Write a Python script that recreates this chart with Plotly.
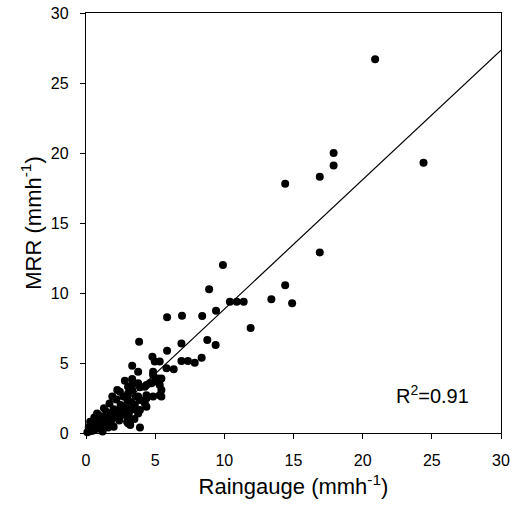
import plotly.graph_objects as go

# Raingauge (x) vs MRR (y) rain rates, mm/h
raingauge = [0.1, 0.2, 0.3, 0.4, 0.5, 0.3, 0.6, 0.7, 0.8, 0.8, 1.0, 1.0, 1.1, 1.2, 1.3, 1.3,
             1.5, 1.5, 1.6, 1.7, 1.8, 1.8, 2.0, 2.0, 2.1, 2.2, 2.26, 2.3, 2.4, 2.45, 2.5, 2.6,
             2.7, 2.81, 2.9, 2.97, 3.0, 3.04, 3.04, 3.04, 3.04, 3.04, 3.04, 3.1, 3.2, 3.3, 3.34,
             3.34, 3.34, 3.34, 3.4, 3.5, 3.53, 3.6, 3.77, 3.77, 3.77, 3.77, 3.84, 3.9, 3.9, 3.9,
             3.9, 4.25, 4.25, 4.37, 4.37, 4.37, 4.37, 4.6, 4.73, 4.8, 4.85, 4.85, 4.85, 4.97,
             4.97, 5.2, 5.33, 5.33, 5.33, 5.33, 5.45, 5.45, 5.45, 5.82, 5.86, 5.86, 6.34, 6.9,
             6.94, 6.9, 7.37, 7.86, 8.36, 8.4, 8.77, 9.37, 8.9, 9.4, 9.9, 10.4, 10.9, 11.4,
             11.9, 13.4, 14.4, 14.9, 16.9, 14.4, 16.9, 17.9, 17.9, 20.9, 24.4,
             0.5, 0.9, 1.2, 1.6, 2.2, 2.6, 2.8, 0.2, 0.6, 1.4, 1.9, 2.4]
mrr = [0.05, 0.1, 0.3, 0.15, 0.5, 0.8, 0.2, 0.7, 1.0, 1.4, 0.3, 0.8, 1.2, 0.1, 1.76, 0.6,
       1.0, 1.5, 0.4, 2.1, 1.3, 0.8, 0.45, 1.7, 1.1, 2.4, 3.07, 1.5, 0.9, 2.95, 2.0, 1.3,
       2.6, 3.74, 1.8, 0.8, 2.3, 3.31, 2.83, 2.36, 1.64, 1.17, 0.69, 1.4, 0.57, 2.2, 3.86,
       3.43, 3.07, 4.81, 1.7, 1.0, 2.0, 2.6, 4.38, 3.55, 2.6, 1.4, 6.52, 3.26, 2.36, 1.64,
       0.4, 3.31, 2.12, 3.43, 2.48, 1.88, 2.7, 3.55, 3.55, 5.45, 2.6, 4.38, 4.14, 3.67,
       5.1, 3.9, 5.1, 3.79, 3.43, 2.7, 3.9, 3.07, 2.6, 4.62, 5.88, 8.26, 4.55, 6.4,
       8.38, 5.14, 5.14, 5.02, 5.38, 8.36, 6.64, 6.29, 10.26, 8.74, 12.0, 9.38, 9.38, 9.38,
       7.5, 9.55, 10.55, 9.26, 12.9, 17.8, 18.3, 19.1, 20.0, 26.7, 19.3,
       0.3, 0.5, 0.9, 1.1, 1.2, 1.9, 1.3, 0.4, 1.1, 0.5, 2.6, 1.6]

# linear fit
fit_slope = 0.925
fit_intercept = -0.4
fit_range = [0, 30]
r2_label = "R<sup>2</sup>=0.91"

axis_ticks = [0, 5, 10, 15, 20, 25, 30]

FONT = "Liberation Sans, Arial, sans-serif"

fig = go.Figure()
fig.add_trace(go.Scatter(
    x=fit_range,
    y=[fit_slope * v + fit_intercept for v in fit_range],
    mode="lines", line=dict(color="black", width=1.2),
    showlegend=False, hoverinfo="skip"))
fig.add_trace(go.Scatter(
    x=raingauge, y=mrr, mode="markers",
    marker=dict(color="black", size=8, line=dict(width=0)),
    cliponaxis=False, showlegend=False))

axis_common = dict(
    range=[0, 30], tickvals=axis_ticks, showgrid=False, zeroline=False,
    showline=True, linecolor="black", linewidth=1.2, mirror=True,
    ticks="outside", ticklen=5, tickcolor="black", tickwidth=1,
    tickfont=dict(family=FONT, size=16, color="black"),
    ticklabeloverflow="allow",
)
fig.update_xaxes(**axis_common,
                 title=dict(text="Raingauge (mmh<sup>-1</sup>)",
                            font=dict(family=FONT, size=22, color="black"), standoff=10),
                 ticklabelstandoff=8)
fig.update_yaxes(**axis_common,
                 title=dict(text="MRR (mmh<sup>-1</sup>)",
                            font=dict(family=FONT, size=22, color="black"), standoff=3),
                 ticklabelstandoff=8)

fig.add_annotation(x=27.8, y=1.7, xref="x", yref="y", text=r2_label, showarrow=False,
                   xanchor="right", yanchor="bottom",
                   font=dict(family=FONT, size=20, color="black"))

fig.update_layout(
    width=520, height=511,
    margin=dict(l=86, r=19, t=13, b=78, autoexpand=False),
    paper_bgcolor="white", plot_bgcolor="white",
    font=dict(family=FONT, color="black"),
)

# remove the browser's default 8px body margin so the figure sits at the window origin
fig.write_html("out.html",
               config={"displayModeBar": False, "staticPlot": True},
               post_script="document.body.style.margin='0';document.body.style.overflow='hidden';")
